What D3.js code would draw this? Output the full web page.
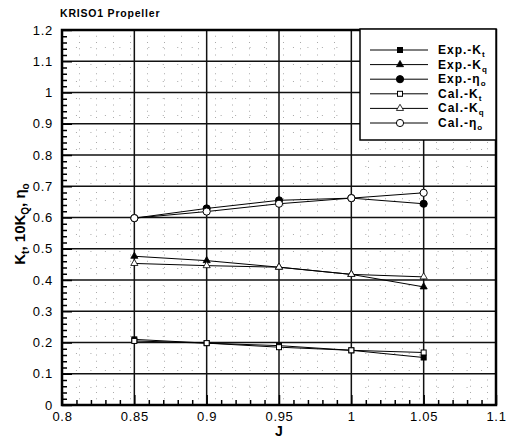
<!DOCTYPE html>
<html>
<head>
<meta charset="utf-8">
<script src="https://cdn.jsdelivr.net/npm/d3@7.9.0/dist/d3.min.js"></script>
<style>
  body { margin: 0; background: #fff; }
  svg { display: block; font-family: "Liberation Sans", Arial, sans-serif; }
</style>
</head>
<body>
<svg width="510" height="439"></svg>
<script>
// J values and measured / calculated results
const J = [0.85, 0.9, 0.95, 1.0, 1.05];
const expKt = [0.21, 0.198, 0.19, 0.175, 0.152];
const expKq = [0.476, 0.462, 0.441, 0.418, 0.378];
const expEta = [0.598, 0.629, 0.655, 0.662, 0.644];
const calKt = [0.205, 0.198, 0.185, 0.175, 0.168];
const calKq = [0.453, 0.446, 0.441, 0.418, 0.41];
const calEta = [0.598, 0.619, 0.644, 0.662, 0.679];

const xTicks = [0.8, 0.85, 0.9, 0.95, 1, 1.05, 1.1];
const yTicks = [0, 0.1, 0.2, 0.3, 0.4, 0.5, 0.6, 0.7, 0.8, 0.9, 1, 1.1, 1.2];

const series = [
  { name: 'Exp.-K', sub: 't', values: expKt, marker: 'square', filled: true },
  { name: 'Exp.-K', sub: 'q', values: expKq, marker: 'triangle', filled: true },
  { name: 'Exp.-\u03b7', sub: 'o', values: expEta, marker: 'circle', filled: true },
  { name: 'Cal.-K', sub: 't', values: calKt, marker: 'square', filled: false },
  { name: 'Cal.-K', sub: 'q', values: calKq, marker: 'triangle', filled: false },
  { name: 'Cal.-\u03b7', sub: 'o', values: calEta, marker: 'circle', filled: false },
];

const svg = d3.select('svg');
const pl = 62, pr = 496, pt = 30, pb = 405;

let x = d3.scaleLinear().domain([0.8, 1.1]).range([pl, pr]);
let y = d3.scaleLinear().domain([0, 1.2]).range([pb, pt]);

// minor dotted grid
const xMinor = d3.range(0.8, 1.1001, 0.01).filter(v => Math.round(v * 100) % 5 !== 0);
const yMinor = d3.range(0, 1.2001, 0.02).filter(v => Math.round(v * 100) % 10 !== 0);

svg.append('g').selectAll('line').data(xMinor).join('line')
  .attr('x1', d => x(d)).attr('x2', d => x(d))
  .attr('y1', pt).attr('y2', pb)
  .attr('stroke', '#aaa').attr('stroke-width', 1)
  .attr('stroke-dasharray', '1,16');
svg.append('g').selectAll('line').data(yMinor).join('line')
  .attr('y1', d => y(d)).attr('y2', d => y(d))
  .attr('x1', pl).attr('x2', pr)
  .attr('stroke', '#aaa').attr('stroke-width', 1)
  .attr('stroke-dasharray', '1,16');

// major grid
svg.append('g').selectAll('line').data(xTicks).join('line')
  .attr('x1', d => x(d)).attr('x2', d => x(d))
  .attr('y1', pt).attr('y2', pb)
  .attr('stroke', '#111').attr('stroke-width', 1.5);
svg.append('g').selectAll('line').data(yTicks).join('line')
  .attr('y1', d => y(d)).attr('y2', d => y(d))
  .attr('x1', pl).attr('x2', pr)
  .attr('stroke', '#111').attr('stroke-width', 1.5);

// axes with inward ticks
const xAxis = svg.append('g')
  .attr('transform', `translate(0,${pb})`)
  .call(d3.axisBottom(x).tickValues(xTicks).tickSize(-10).tickPadding(7)
    .tickFormat(d3.format('~g')));
svg.append('g')
  .attr('transform', `translate(0,${pb})`)
  .call(d3.axisBottom(x).tickValues(xMinor).tickSize(-5).tickFormat(''))
  .call(g => g.select('.domain').remove());

const yAxis = svg.append('g')
  .attr('transform', `translate(${pl},0)`)
  .call(d3.axisLeft(y).tickValues(yTicks).tickSize(-10).tickPadding(9)
    .tickFormat(d3.format('~g')));
svg.append('g')
  .attr('transform', `translate(${pl},0)`)
  .call(d3.axisLeft(y).tickValues(yMinor).tickSize(-5).tickFormat(''))
  .call(g => g.select('.domain').remove());

svg.selectAll('.tick line').attr('stroke', '#000').attr('stroke-width', 1.5);
svg.selectAll('.tick text').attr('font-size', 13).attr('fill', '#000')
  .attr('letter-spacing', 0.7);
xAxis.select('.domain').remove();
yAxis.select('.domain').remove();

// frame
svg.append('rect')
  .attr('x', pl).attr('y', pt)
  .attr('width', pr - pl).attr('height', pb - pt)
  .attr('fill', 'none').attr('stroke', '#000').attr('stroke-width', 2.5);

// series lines and markers
const line = d3.line().x((d, i) => x(J[i])).y(d => y(d));

function drawMarker(g, type, filled, cx, cy) {
  const fill = filled ? '#000' : '#fff';
  if (type === 'square') {
    const s = 5;
    g.append('rect').attr('x', cx - s / 2).attr('y', cy - s / 2)
      .attr('width', s).attr('height', s)
      .attr('fill', fill).attr('stroke', '#000').attr('stroke-width', 1);
  } else if (type === 'triangle') {
    g.append('path')
      .attr('d', d3.symbol(d3.symbolTriangle, 22)())
      .attr('transform', `translate(${cx},${cy})`)
      .attr('fill', fill).attr('stroke', '#000').attr('stroke-width', 0.8);
  } else {
    g.append('circle').attr('cx', cx).attr('cy', cy).attr('r', 3.6)
      .attr('fill', fill).attr('stroke', '#000').attr('stroke-width', 1);
  }
}

series.forEach(s => {
  const g = svg.append('g');
  g.append('path').attr('d', line(s.values))
    .attr('fill', 'none').attr('stroke', '#000').attr('stroke-width', 1);
  s.values.forEach((v, i) => drawMarker(g, s.marker, s.filled, x(J[i]), y(v)));
});

// legend
const legend = svg.append('g');
legend.append('rect')
  .attr('x', 360).attr('y', 29).attr('width', 136).attr('height', 111)
  .attr('fill', '#fff').attr('stroke', '#000').attr('stroke-width', 1.5);

series.forEach((s, i) => {
  const ly = 50 + i * 14.6;
  legend.append('line')
    .attr('x1', 370).attr('x2', 428).attr('y1', ly).attr('y2', ly)
    .attr('stroke', '#000').attr('stroke-width', 1);
  drawMarker(legend, s.marker, s.filled, 400, ly);
  const t = legend.append('text')
    .attr('x', 438).attr('y', ly + 4)
    .attr('font-size', 12).attr('font-weight', 'bold')
    .attr('letter-spacing', 1);
  t.append('tspan').text(s.name);
  t.append('tspan').attr('font-size', 8).attr('dy', 3).text(s.sub);
});

// titles
svg.append('text')
  .attr('x', 60).attr('y', 17)
  .attr('font-size', 10.5).attr('font-weight', 'bold')
  .attr('letter-spacing', 0.8)
  .text('KRISO1 Propeller');

svg.append('text')
  .attr('x', 279).attr('y', 436)
  .attr('text-anchor', 'middle')
  .attr('font-size', 14).attr('font-weight', 'bold')
  .text('J');

const yTitle = svg.append('text')
  .attr('transform', 'translate(25,224) rotate(-90)')
  .attr('text-anchor', 'middle')
  .attr('font-size', 15).attr('font-weight', 'bold');
yTitle.append('tspan').text('K');
yTitle.append('tspan').attr('font-size', 10).attr('dy', 4).text('t');
yTitle.append('tspan').attr('dy', -4).text(', 10K');
yTitle.append('tspan').attr('font-size', 10).attr('dy', 4).text('Q');
yTitle.append('tspan').attr('dy', -4).text(', \u03b7');
yTitle.append('tspan').attr('font-size', 10).attr('dy', 4).text('o');
</script>
</body>
</html>
